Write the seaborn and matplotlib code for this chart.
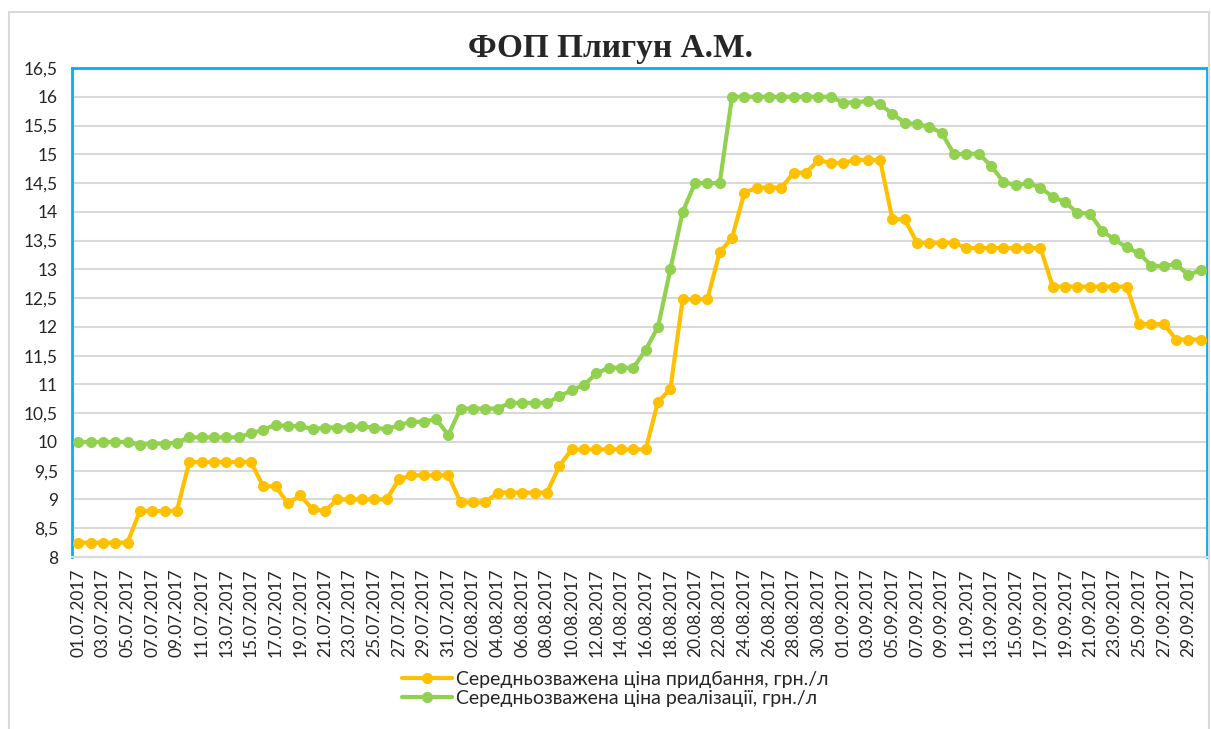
import pandas as pd
import matplotlib
matplotlib.use("Agg")
import matplotlib.pyplot as plt
import seaborn as sns
from matplotlib.patches import Rectangle

# ==========================================
# DATA
# ==========================================

dates = pd.date_range("2017-07-01", "2017-09-30", freq="D")
date_labels = [d.strftime("%d.%m.%Y") for d in dates]

purchase = (
    [8.25] * 5 + [8.8] * 4 + [9.65] * 6
    + [9.23, 9.23, 8.93, 9.07, 8.83, 8.8]
    + [9.0] * 5 + [9.35] + [9.42] * 4 + [8.95] * 3 + [9.12] * 5
    + [9.58] + [9.87] * 7 + [10.7, 10.92] + [12.48] * 3
    + [13.3, 13.55, 14.33] + [14.42] * 3 + [14.68] * 2 + [14.9]
    + [14.85] * 2 + [14.9] * 3 + [13.87] * 2 + [13.46] * 4
    + [13.37] * 7 + [12.7] * 7 + [12.05] * 3 + [11.78] * 3
)

sales = (
    [10.0] * 5 + [9.95, 9.97, 9.97, 9.99] + [10.08] * 5
    + [10.15, 10.21, 10.3, 10.27, 10.28, 10.22, 10.25, 10.25, 10.26,
       10.27, 10.25, 10.22, 10.29, 10.35, 10.35, 10.4, 10.12]
    + [10.58] * 4 + [10.68] * 4 + [10.79, 10.9, 10.99, 11.19]
    + [11.29] * 3 + [11.6, 12.0, 13.0, 14.0] + [14.5] * 3 + [16.0] * 9
    + [15.9, 15.9, 15.93, 15.87, 15.7, 15.55, 15.52, 15.48, 15.37, 15.0,
       15.01, 15.01, 14.8, 14.52, 14.46, 14.5, 14.42, 14.26, 14.17, 13.98,
       13.97, 13.67, 13.52, 13.38, 13.28, 13.06, 13.06, 13.09, 12.9, 12.99]
)

label_purchase = "Середньозважена ціна придбання, грн./л"
label_sales = "Середньозважена ціна реалізації, грн./л"

df = pd.DataFrame({
    "idx": range(len(dates)),
    "purchase": purchase,
    "sales": sales
})

# ==========================================
# PLOT
# ==========================================

sns.set_style("white")
plt.rcParams["font.family"] = ["Lato", "DejaVu Sans"]

W, H = 1211, 729
fig = plt.figure(figsize=(W / 100, H / 100), dpi=100)

# outer chart border
fig.patches.append(Rectangle(
    (9 / W, -0.02), 1200 / W, 1 - 12 / H + 0.02,
    transform=fig.transFigure, fill=False,
    edgecolor="#D9D9D9", linewidth=1.5
))

ax = fig.add_axes([72 / W, 1 - 557 / H, (1207 - 72) / W, (557 - 68) / H])

sns.lineplot(
    data=df, x="idx", y="purchase", ax=ax,
    color="#FFC000", linewidth=3.0, marker="o",
    markersize=8, markeredgewidth=0, label=label_purchase, zorder=3
)
sns.lineplot(
    data=df, x="idx", y="sales", ax=ax,
    color="#92D050", linewidth=3.0, marker="o",
    markersize=8, markeredgewidth=0, label=label_sales, zorder=3
)

ax.set_xlim(-0.5, len(dates) - 0.5)
ax.set_ylim(8, 16.5)

yt = [8 + 0.5 * i for i in range(18)]
ax.set_yticks(yt)
ax.set_yticklabels([("%g" % v).replace(".", ",") for v in yt], fontsize=12.5)
ax.yaxis.grid(True, color="#D9D9D9", linewidth=1.5)
ax.set_axisbelow(True)

ax.set_xticks(range(0, len(dates), 2))
ax.set_xticklabels(date_labels[::2], rotation=90, fontsize=12.5)
ax.set_xticks([i - 0.5 for i in range(0, len(dates) + 1, 2)], minor=True)
ax.tick_params(axis="x", which="major", length=0, pad=8)
ax.tick_params(axis="x", which="minor", length=5, color="#BFBFBF", width=1)
ax.tick_params(axis="y", length=0, pad=10)

ax.set_xlabel("")
ax.set_ylabel("")

for s in ["left", "top", "right"]:
    ax.spines[s].set_color("#00B0F0")
    ax.spines[s].set_linewidth(2)
ax.spines["bottom"].set_color("#D9D9D9")
ax.spines["bottom"].set_linewidth(1.5)

fig.text(610 / W, 1 - 48 / H, "ФОП Плигун А.М.", ha="center", va="center",
         fontsize=24, fontweight="bold", family=["Liberation Serif"])

handles, labels = ax.get_legend_handles_labels()
ax.legend_.remove()
fig.legend(
    handles, labels, loc="center",
    bbox_to_anchor=(615 / W, 1 - 689 / H),
    frameon=False, fontsize=14, handlelength=2.6,
    handletextpad=0.2, labelspacing=0.12
)

plt.savefig("out.png", dpi=100)
